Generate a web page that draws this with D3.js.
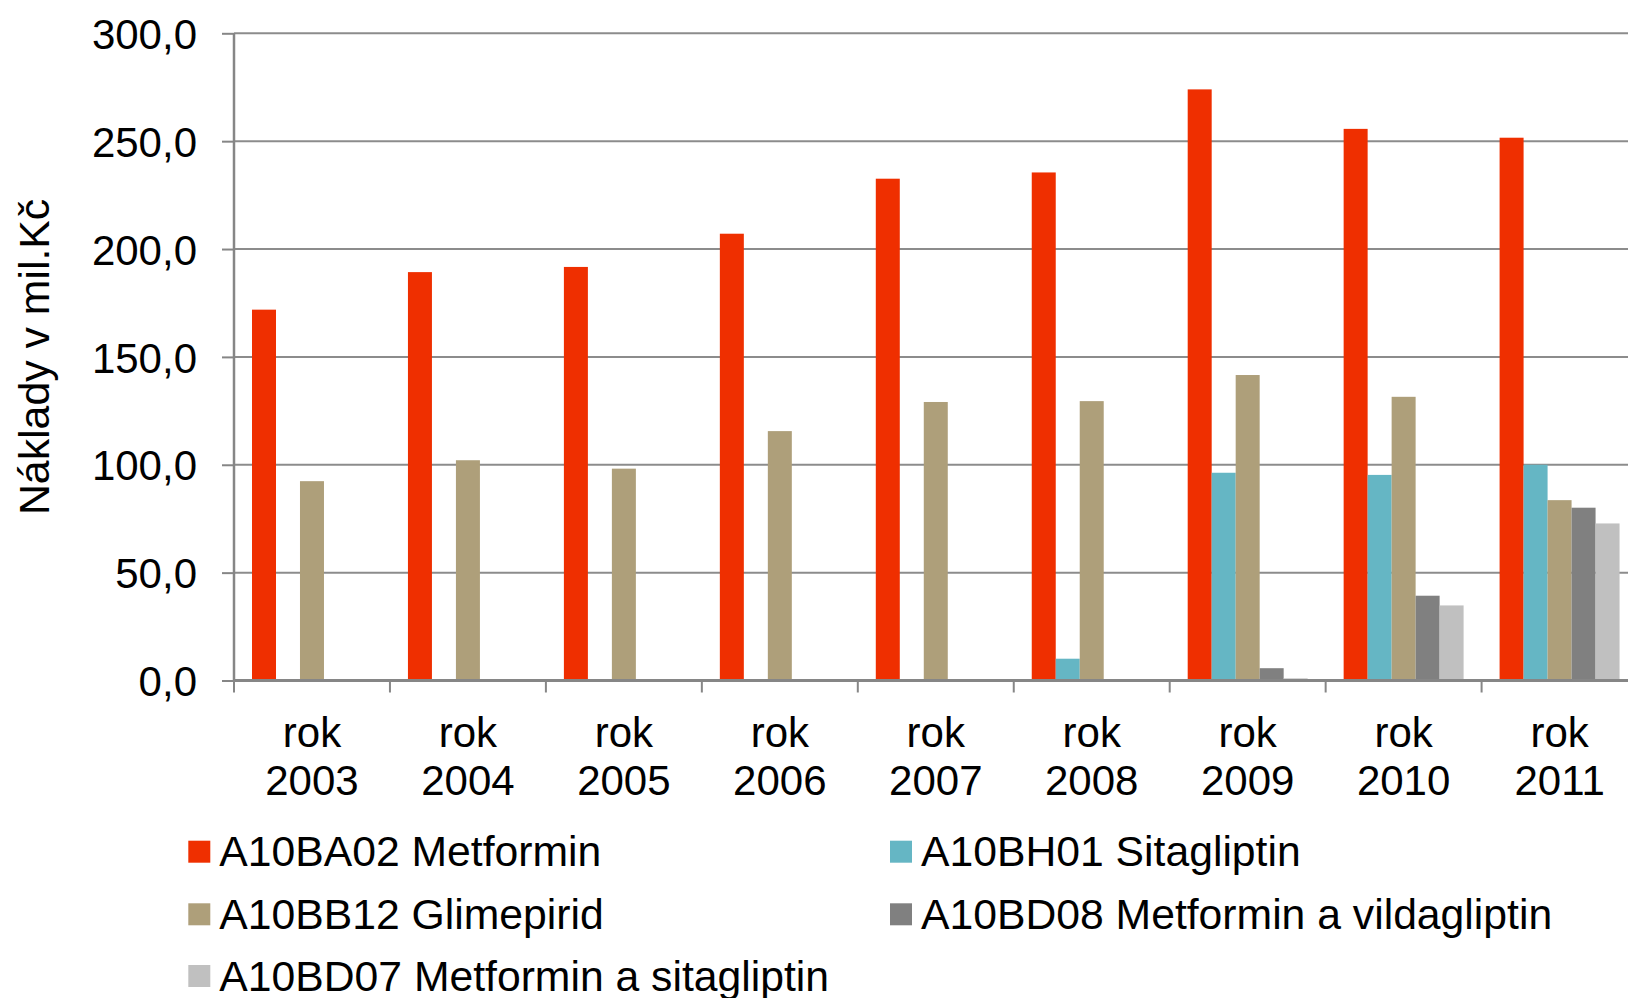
<!DOCTYPE html>
<html>
<head>
<meta charset="utf-8">
<script src="https://cdn.jsdelivr.net/npm/d3@7"></script>
<style>
  html, body { margin: 0; padding: 0; background: #fff; overflow: hidden; }
  svg { display: block; font-family: "Liberation Sans", Arial, sans-serif; }
</style>
</head>
<body>
<svg id="chart" width="1628" height="998"></svg>
<script>
const categories = ["2003", "2004", "2005", "2006", "2007", "2008", "2009", "2010", "2011"];
const seriesNames = [
  "A10BA02 Metformin",
  "A10BH01 Sitagliptin",
  "A10BB12 Glimepirid",
  "A10BD08 Metformin a vildagliptin",
  "A10BD07 Metformin a sitagliptin"
];
const seriesColors = ["#ef2f00", "#65b6c4", "#ae9f7a", "#808080", "#c0c0c0"];
const metformin    = [171.9, 189.3, 191.7, 207.1, 232.6, 235.5, 274.0, 255.7, 251.6];
const sitagliptin  = [0, 0, 0, 0, 0, 10.1, 96.3, 95.3, 100.0];
const glimepirid   = [92.4, 102.1, 98.2, 115.6, 129.1, 129.5, 141.6, 131.5, 83.6];
const vildaMet     = [0, 0, 0, 0, 0, 0, 5.7, 39.3, 80.1];
const sitaMet      = [0, 0, 0, 0, 0, 0, 1.0, 34.8, 72.8];
const yTicks = [0, 50, 100, 150, 200, 250, 300];
const yTitle = "Náklady v mil.Kč";
const catPrefix = "rok";

const seriesValues = [metformin, sitagliptin, glimepirid, vildaMet, sitaMet];

(function () {
const svg = d3.select("#chart");
const W = 1628;
const pLeft = 234, pTop = 33.3, pBottom = 680.5;
const band = 155.95;

const x = d3.scaleBand().domain(categories).range([pLeft, pLeft + band * categories.length]).padding(0);
const xs = d3.scaleBand().domain(seriesNames).range([0, x.bandwidth()]).paddingInner(0).paddingOuter(0.75);
const y = d3.scaleLinear().domain([0, 300]).range([pBottom, pTop]);

const fmt = v => d3.format(".1f")(v).replace(".", ",");

// gridlines
svg.append("g").selectAll("line").data(yTicks.filter(d => d > 0)).join("line")
  .attr("x1", pLeft).attr("x2", W)
  .attr("y1", d => y(d)).attr("y2", d => y(d))
  .attr("stroke", "#8c8c8c").attr("stroke-width", 2);

// bars
const groups = svg.append("g").selectAll("g").data(categories).join("g")
  .attr("transform", c => `translate(${x(c)},0)`);
groups.selectAll("rect")
  .data((c, ci) => seriesNames.map((s, si) => ({ s, si, v: seriesValues[si][ci] })))
  .join("rect")
  .attr("x", d => xs(d.s))
  .attr("width", xs.bandwidth())
  .attr("y", d => y(d.v))
  .attr("height", d => y(0) - y(d.v))
  .attr("fill", d => seriesColors[d.si]);

// y axis
const yAxis = d3.axisLeft(y).tickValues(yTicks).tickSize(12).tickPadding(25).tickFormat(fmt);
const gy = svg.append("g").attr("transform", `translate(${pLeft},0)`).call(yAxis);
gy.select(".domain").attr("stroke", "#868686").attr("stroke-width", 2.5).attr("d", `M0,${pTop}V${pBottom}`);
gy.selectAll(".tick line").attr("stroke", "#868686").attr("stroke-width", 2);
gy.selectAll(".tick text").attr("font-size", 42).attr("fill", "#000")
  .attr("font-family", "'Liberation Sans', Arial, sans-serif").attr("dy", "0.36em");

// x axis line and ticks at band boundaries
svg.append("line").attr("x1", pLeft).attr("x2", W).attr("y1", pBottom).attr("y2", pBottom)
  .attr("stroke", "#868686").attr("stroke-width", 3);
svg.append("g").selectAll("line").data(categories).join("line")
  .attr("x1", c => x(c)).attr("x2", c => x(c))
  .attr("y1", pBottom).attr("y2", pBottom + 12)
  .attr("stroke", "#868686").attr("stroke-width", 2);

// category labels
const lab = svg.append("g").selectAll("text").data(categories).join("text")
  .attr("text-anchor", "middle").attr("font-size", 42).attr("fill", "#000")
  .attr("transform", c => `translate(${x(c) + x.bandwidth() / 2},0)`);
lab.append("tspan").attr("x", 0).attr("y", 746.5).text(catPrefix);
lab.append("tspan").attr("x", 0).attr("y", 794.5).text(c => c);

// y title
svg.append("text")
  .attr("transform", `translate(49,${(pTop + pBottom) / 2}) rotate(-90)`)
  .attr("text-anchor", "middle").attr("font-size", 42.8).attr("fill", "#000")
  .text(yTitle);

// legend
const legendOrder = [0, 1, 2, 3, 4];
const colX = [188.3, 890];
const rowY = [840.7, 903.3, 965];
const leg = svg.append("g").selectAll("g").data(legendOrder).join("g")
  .attr("transform", (si, i) => `translate(${colX[i % 2]},${rowY[Math.floor(i / 2)]})`);
leg.append("rect").attr("width", 22).attr("height", 22).attr("fill", si => seriesColors[si]);
leg.append("text").attr("x", 31).attr("y", 25.5).attr("font-size", 42.7).attr("fill", "#000")
  .text(si => seriesNames[si]);
})();
</script>
</body>
</html>
